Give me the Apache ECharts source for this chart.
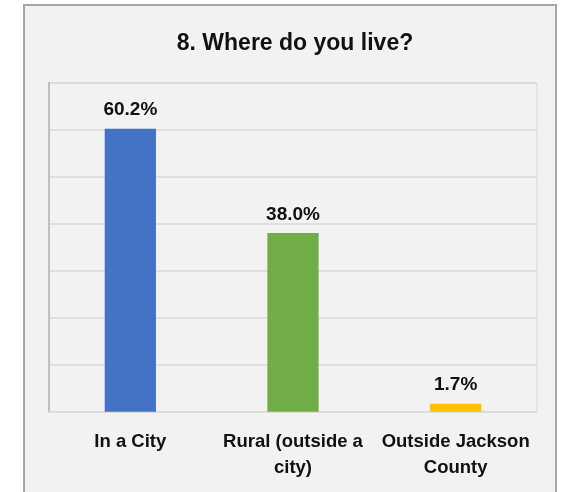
<!DOCTYPE html>
<html>
<head>
<meta charset="utf-8">
<script src="https://cdn.jsdelivr.net/npm/echarts@6/dist/echarts.min.js"></script>
<style>
html,body{margin:0;padding:0;background:#ffffff;}
#chart{width:564px;height:492px;}
</style>
</head>
<body>
<div id="chart"></div>
<script>
var titleText = "8. Where do you live?";
var categories = ["In a City", "Rural (outside a\ncity)", "Outside Jackson\nCounty"];
var values = [60.2, 38.0, 1.7];
var barColors = ["#4472C4", "#70AD47", "#FFC000"];
var yMax = 70;
var yInterval = 10;

var chart = echarts.init(document.getElementById('chart'), null, {renderer: 'canvas'});
var FONT = "'Liberation Sans', Arial, sans-serif";
chart.setOption({
  animation: false,
  backgroundColor: '#ffffff',
  graphic: [{
    type: 'rect',
    z: -10,
    shape: {x: 24, y: 5, width: 532, height: 500},
    style: {fill: '#f2f2f2', stroke: '#a6a6a6', lineWidth: 2}
  }],
  title: {
    text: titleText,
    left: 290,
    textAlign: 'center',
    top: 27,
    textStyle: {fontFamily: FONT, fontSize: 23, fontWeight: 'bold', color: '#111111'}
  },
  grid: {
    left: 49, right: 27, top: 82.7, bottom: 80.3,
    show: true, borderColor: '#d9d9d9', borderWidth: 1, backgroundColor: 'transparent'
  },
  xAxis: {
    type: 'category',
    data: categories,
    axisTick: {show: false},
    axisLine: {show: true, lineStyle: {color: '#d9d9d9', width: 1}},
    axisLabel: {
      fontFamily: FONT, fontSize: 18.5, fontWeight: 'bold', color: '#111111',
      margin: 17, lineHeight: 26, interval: 0
    }
  },
  yAxis: {
    type: 'value',
    min: 0, max: yMax, interval: yInterval,
    axisLabel: {show: false},
    axisTick: {show: false},
    axisLine: {show: true, lineStyle: {color: '#bfbfbf', width: 2}},
    splitLine: {show: true, lineStyle: {color: '#d9d9d9', width: 1.5}}
  },
  series: [{
    type: 'bar',
    data: values.map(function (v, i) { return {value: v, itemStyle: {color: barColors[i]}}; }),
    barWidth: '31.5%',
    label: {
      show: true, position: 'top', distance: 9,
      formatter: function (p) { return p.value.toFixed(1) + '%'; },
      fontFamily: FONT, fontSize: 19, fontWeight: 'bold', color: '#111111'
    }
  }]
});
</script>
</body>
</html>
